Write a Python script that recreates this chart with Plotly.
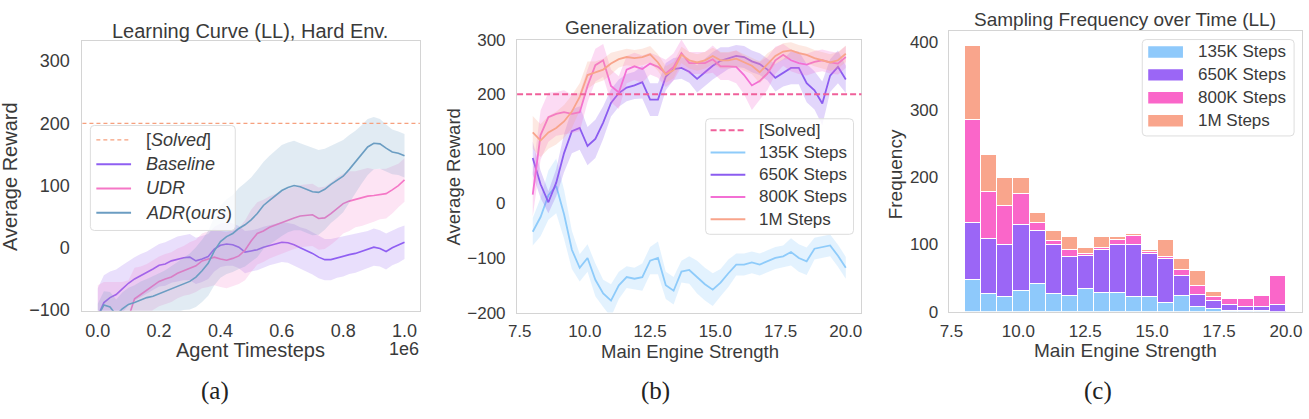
import plotly.graph_objects as go

# ---------------- data: panel (a) learning curves ----------------
a_steps = list(range(0, 1_000_001, 20_000))  # 51 evaluation points
a_baseline = [-110, -88, -80, -75, -66, -57, -50, -45, -40, -34,
              -28, -26, -21, -18, -16, -15, -21, -18, -14, -2,
              4, 6, 5, 1, -7, -5, -3, 1, 4, 7,
              9, 8, 5, 0, -4, -9, -15, -19, -19, -16,
              -14, -11, -9, -6, -3, 1, -1, -6, 0, 4,
              9]
a_baseline_sd = [45, 44, 42, 40, 38, 36, 35, 35, 34, 34,
                 34, 35, 35, 36, 36, 37, 37, 37, 36, 36,
                 35, 35, 34, 34, 34, 33, 33, 33, 32, 32,
                 32, 32, 33, 33, 34, 34, 34, 33, 33, 32,
                 32, 31, 31, 30, 30, 30, 29, 29, 28, 28,
                 27]
a_udr = [-160, -150, -145, -135, -125, -112, -82, -75, -68, -60,
         -54, -50, -47, -41, -37, -33, -29, -21, -18, -15,
         -18, -20, -17, -13, -4, 11, 23, 27, 33, 37,
         41, 44, 48, 51, 52, 53, 47, 48, 55, 63,
         71, 75, 78, 80, 83, 84, 86, 87, 93, 100,
         109]
a_udr_sd = [100, 95, 90, 80, 70, 60, 50, 45, 42, 40,
            40, 40, 40, 40, 40, 42, 42, 44, 45, 45,
            45, 45, 45, 45, 48, 50, 50, 50, 50, 50,
            50, 50, 50, 50, 50, 50, 50, 50, 50, 50,
            48, 48, 45, 45, 45, 42, 40, 40, 38, 35,
            35]
a_adr = [-110, -92, -95, -108, -98, -91, -88, -84, -80, -78,
         -74, -71, -67, -63, -58, -54, -47, -37, -25, -5,
         10, 18, 23, 31, 37, 45, 55, 68, 76, 84,
         92, 97, 100, 98, 94, 90, 89, 94, 102, 108,
         115, 126, 138, 150, 162, 168, 167, 160, 154, 152,
         148]
a_adr_sd = [20, 22, 24, 25, 26, 27, 28, 30, 30, 32,
            33, 35, 37, 40, 42, 45, 48, 50, 52, 55,
            58, 60, 62, 65, 67, 68, 70, 70, 72, 72,
            73, 72, 72, 70, 70, 70, 68, 65, 62, 60,
            58, 55, 50, 47, 45, 42, 40, 38, 36, 35,
            35]
SOLVED = 200

# ---------------- data: panel (b) generalization ----------------
b_strength = [round(8.0 + 0.3 * k, 2) for k in range(41)]
b_135k = [-52, -25, 15, 32, -20, -85, -118, -100, -140, -165,
          -178, -150, -135, -138, -135, -105, -100, -150, -160, -125,
          -122, -135, -148, -158, -145, -128, -112, -112, -108, -112,
          -106, -100, -97, -89, -100, -106, -83, -80, -77, -96,
          -118]
b_135k_sd = [25, 35, 45, 50, 45, 35, 25, 25, 30, 25,
             30, 25, 20, 20, 25, 25, 30, 25, 25, 20,
             25, 30, 30, 30, 25, 25, 20, 20, 20, 20,
             20, 20, 20, 25, 25, 25, 20, 20, 20, 20,
             20]
b_650k = [83, 35, 2, 38, 92, 132, 138, 105, 118, 148,
          184, 202, 212, 216, 222, 190, 190, 232, 246, 248,
          241, 228, 240, 252, 261, 266, 270, 268, 260, 255,
          245, 230, 239, 248, 248, 220, 207, 183, 234, 250,
          227]
b_650k_sd = [30, 25, 20, 25, 35, 40, 40, 35, 35, 30,
             25, 25, 25, 25, 30, 30, 30, 25, 20, 20,
             20, 25, 25, 25, 25, 20, 20, 20, 20, 20,
             20, 25, 25, 30, 30, 35, 35, 40, 30, 30,
             25]
b_800k = [16, 125, 158, 164, 167, 164, 167, 215, 253, 262,
          215, 203, 245, 251, 246, 256, 250, 238, 250, 275,
          257, 257, 257, 264, 251, 251, 250, 235, 216, 224,
          238, 262, 272, 262, 257, 254, 259, 262, 258, 256,
          268]
b_800k_sd = [40, 45, 45, 40, 40, 35, 35, 30, 30, 30,
             30, 30, 25, 25, 25, 20, 20, 25, 25, 25,
             20, 20, 20, 25, 25, 25, 30, 35, 45, 35,
             30, 25, 20, 20, 20, 20, 20, 20, 20, 20,
             20]
b_1m = [130, 115, 130, 138, 150, 168, 195, 235, 240, 245,
        256, 264, 268, 266, 268, 273, 258, 236, 244, 272,
        262, 258, 262, 270, 262, 262, 265, 258, 252, 240,
        255, 270, 278, 280, 275, 272, 266, 262, 258, 262,
        274]
b_1m_sd = [30, 30, 30, 30, 30, 30, 25, 25, 20, 20,
           20, 15, 15, 15, 15, 15, 15, 15, 15, 15,
           15, 15, 15, 15, 15, 15, 15, 15, 15, 20,
           20, 15, 15, 15, 15, 15, 15, 15, 15, 15,
           15]

# ---------------- data: panel (c) sampling histogram (stacked) ----------------
c_bin_centers = [round(8.3 + 0.6 * k, 2) for k in range(20)]
c_bin_width = 0.6
c_135k = [48, 27, 23, 31, 42, 27, 24, 35, 28, 28, 22, 23, 14, 24, 8, 5, 2, 1, 1, 0]
c_650k = [85, 81, 77, 99, 78, 72, 58, 49, 65, 72, 78, 63, 65, 29, 18, 12, 8, 6, 6, 11]
c_800k = [152, 70, 57, 46, 13, 7, 10, 2, 3, 7, 13, 3, 3, 10, 13, 6, 10, 12, 17, 42]
c_1m = [111, 55, 43, 23, 14, 15, 19, 10, 15, 5, 3, 4, 25, 16, 22, 7, 0, 0, 0, 0]

# ---------------- styling ----------------
W, H = 1309, 419
FONT = "Liberation Sans, Arial, Helvetica, sans-serif"
SERIF = "Liberation Serif, Times New Roman, serif"
TXT = "#3a3a3a"
SPINE = "#d4d4d4"

A_COL = {"solved": "#f6a07e", "base": "#8f5ff2", "udr": "#f577c6", "adr": "#6b9dc2"}
B_COL = {"solved": "#f0609a", "135": "#8ecbfa", "650": "#8b5cf0", "800": "#f36fd4", "1m": "#f8a48b"}
C_COL = {"135": "#8ec9fb", "650": "#9b66f6", "800": "#fa66c9", "1m": "#f9a58c"}


def px(x):
    return x / W


def py(y):
    return 1 - y / H


def rgba(h, a):
    h = h.lstrip("#")
    return f"rgba({int(h[0:2],16)},{int(h[2:4],16)},{int(h[4:6],16)},{a})"


def band(x, mean, sd, color, alpha, xa, ya):
    up = [m + s for m, s in zip(mean, sd)]
    lo = [m - s for m, s in zip(mean, sd)]
    return go.Scatter(x=list(x) + list(x)[::-1], y=up + lo[::-1], fill="toself",
                      fillcolor=rgba(color, alpha), line=dict(width=0), mode="lines",
                      hoverinfo="skip", showlegend=False, xaxis=xa, yaxis=ya)


def line(x, y, color, width, xa, ya, name):
    return go.Scatter(x=x, y=y, mode="lines", line=dict(color=color, width=width),
                      name=name, showlegend=False, xaxis=xa, yaxis=ya)


fig = go.Figure()

# panel (a)
for mean, sd, key, nm in [(a_baseline, a_baseline_sd, "base", "Baseline"),
                          (a_udr, a_udr_sd, "udr", "UDR"),
                          (a_adr, a_adr_sd, "adr", "ADR(ours)")]:
    fig.add_trace(band(a_steps, mean, sd, A_COL[key], 0.2, "x", "y"))
    fig.add_trace(line(a_steps, mean, A_COL[key], 1.6, "x", "y", nm))

# panel (b)
for mean, sd, key, nm in [(b_135k, b_135k_sd, "135", "135K Steps"),
                          (b_650k, b_650k_sd, "650", "650K Steps"),
                          (b_800k, b_800k_sd, "800", "800K Steps"),
                          (b_1m, b_1m_sd, "1m", "1M Steps")]:
    fig.add_trace(band(b_strength, mean, sd, B_COL[key], 0.25, "x2", "y2"))
    fig.add_trace(line(b_strength, mean, B_COL[key], 1.8, "x2", "y2", nm))

# panel (c)
for counts, key, nm in [(c_135k, "135", "135K Steps"), (c_650k, "650", "650K Steps"),
                        (c_800k, "800", "800K Steps"), (c_1m, "1m", "1M Steps")]:
    fig.add_trace(go.Bar(x=c_bin_centers, y=counts, width=c_bin_width, name=nm,
                         marker=dict(color=C_COL[key], line=dict(color="white", width=1)),
                         showlegend=False, xaxis="x3", yaxis="y3"))


def axis(size=17, tlen=7, **kw):
    d = dict(showgrid=False, zeroline=False, showline=True, mirror=True,
             linecolor=SPINE, linewidth=1.2, ticks="outside", ticklen=tlen,
             tickcolor="rgba(0,0,0,0)", tickfont=dict(family=FONT, size=size, color=TXT))
    d.update(kw)
    return d


XT_B = dict(tickvals=[7.5, 10, 12.5, 15, 17.5, 20],
            ticktext=["7.5", "10.0", "12.5", "15.0", "17.5", "20.0"])

fig.update_layout(
    width=W, height=H, margin=dict(l=0, r=0, t=0, b=0),
    paper_bgcolor="white", plot_bgcolor="white", barmode="stack", showlegend=False,
    xaxis=axis(size=18, tlen=4, domain=[px(74), px(414)], anchor="y", range=[-50000, 1050000],
               tickvals=[0, 200000, 400000, 600000, 800000, 1000000],
               ticktext=["0.0", "0.2", "0.4", "0.6", "0.8", "1.0"]),
    yaxis=axis(size=18, tlen=8, domain=[py(316), py(33)], anchor="x", range=[-101, 333],
               tickvals=[-100, 0, 100, 200, 300], ticktext=["\u2212100", "0", "100", "200", "300"]),
    xaxis2=axis(tlen=3, domain=[px(512), px(859)], anchor="y2", range=[7.4, 20.6], **XT_B),
    yaxis2=axis(tlen=7, domain=[py(318), py(32)], anchor="x2", range=[-200, 300],
                tickvals=[-200, -100, 0, 100, 200, 300],
                ticktext=["\u2212200", "\u2212100", "0", "100", "200", "300"]),
    xaxis3=axis(tlen=4, domain=[px(947), px(1303)], anchor="y3", range=[7.4, 20.6], **XT_B),
    yaxis3=axis(tlen=6, domain=[py(317), py(23)], anchor="x3", range=[0, 417],
                tickvals=[0, 100, 200, 300, 400]),
)

shapes = []
# solved thresholds
shapes.append(dict(type="line", xref="x domain", yref="y", x0=0, x1=1, y0=SOLVED, y1=SOLVED,
                   line=dict(color=A_COL["solved"], width=1.3, dash="4px,3px")))
shapes.append(dict(type="line", xref="x2 domain", yref="y2", x0=0, x1=1, y0=SOLVED, y1=SOLVED,
                   line=dict(color=B_COL["solved"], width=2, dash="6px,3px")))


def rrect(x0, y0, x1, y1, r=4):
    P = lambda x, y: f"{px(x):.5f},{py(y):.5f}"
    return (f"M {P(x0+r,y0)} L {P(x1-r,y0)} Q {P(x1,y0)} {P(x1,y0+r)} "
            f"L {P(x1,y1-r)} Q {P(x1,y1)} {P(x1-r,y1)} L {P(x0+r,y1)} "
            f"Q {P(x0,y1)} {P(x0,y1-r)} L {P(x0,y0+r)} Q {P(x0,y0)} {P(x0+r,y0)} Z")


annotations = []


def text(x, y, s, size, xanchor="center", angle=0, family=FONT, color=TXT):
    annotations.append(dict(xref="paper", yref="paper", x=px(x), y=py(y), text=s,
                            showarrow=False, xanchor=xanchor, yanchor="middle",
                            textangle=angle, font=dict(family=family, size=size, color=color)))


# legend (a)
shapes.append(dict(type="path", xref="paper", yref="paper", path=rrect(82, 122, 228, 232),
                   fillcolor="rgba(255,255,255,0.8)", line=dict(color="#dddddd", width=1)))
leg_a = [("[<i>Solved</i>]", A_COL["solved"], "4px,3px", 1.3),
         ("<i>Baseline</i>", A_COL["base"], "solid", 2),
         ("<i>UDR</i>", A_COL["udr"], "solid", 2),
         ("<i>ADR</i>(<i>ours</i>)", A_COL["adr"], "solid", 2)]
for i, (lab, col, dash, wd) in enumerate(leg_a):
    yy = 137 + i * 25.5
    shapes.append(dict(type="line", xref="paper", yref="paper", x0=px(88), x1=px(123),
                       y0=py(yy), y1=py(yy), line=dict(color=col, width=wd, dash=dash)))
    text(136, yy, lab, 18, xanchor="left")

# legend (b)
shapes.append(dict(type="path", xref="paper", yref="paper", path=rrect(702, 115, 851, 236),
                   fillcolor="rgba(255,255,255,0.8)", line=dict(color="#dddddd", width=1)))
leg_b = [("[Solved]", B_COL["solved"], "6px,3px"), ("135K Steps", B_COL["135"], "solid"),
         ("650K Steps", B_COL["650"], "solid"), ("800K Steps", B_COL["800"], "solid"),
         ("1M Steps", B_COL["1m"], "solid")]
for i, (lab, col, dash) in enumerate(leg_b):
    yy = 127 + i * 23.3
    shapes.append(dict(type="line", xref="paper", yref="paper", x0=px(707), x1=px(742),
                       y0=py(yy), y1=py(yy), line=dict(color=col, width=2, dash=dash)))
    text(754, yy, lab, 17, xanchor="left")

# legend (c)
shapes.append(dict(type="path", xref="paper", yref="paper", path=rrect(1142, 32, 1295, 133),
                   fillcolor="rgba(255,255,255,0.8)", line=dict(color="#dddddd", width=1)))
leg_c = [("135K Steps", C_COL["135"]), ("650K Steps", C_COL["650"]),
         ("800K Steps", C_COL["800"]), ("1M Steps", C_COL["1m"])]
for i, (lab, col) in enumerate(leg_c):
    yy = 45 + i * 24
    shapes.append(dict(type="rect", xref="paper", yref="paper", x0=px(1148), x1=px(1183),
                       y0=py(yy + 6), y1=py(yy - 6), fillcolor=col, line=dict(width=0)))
    text(1196, yy, lab, 17, xanchor="left")

# titles
text(243, 23, "Learning Curve (LL), Hard Env.", 20)
text(686, 19.5, "Generalization over Time (LL)", 19)
text(1125, 11, "Sampling Frequency over Time (LL)", 19)
# axis titles
text(243.5, 357, "Agent Timesteps", 20)
text(398, 356, "1e6", 18)
text(686, 359, "Main Engine Strength", 18.5)
text(1125, 358, "Main Engine Strength", 19)
text(1, 175, "Average Reward", 20, angle=-90)
text(447, 176, "Average Reward", 18.5, angle=-90)
text(893, 173, "Frequency", 19, angle=-90)
# captions
text(208, 400, "(a)", 25, family=SERIF, color="#222222")
text(651, 400, "(b)", 25, family=SERIF, color="#222222")
text(1097, 400, "(c)", 25, family=SERIF, color="#222222")

fig.update_layout(shapes=shapes, annotations=annotations)
fig.write_html("out.html")
